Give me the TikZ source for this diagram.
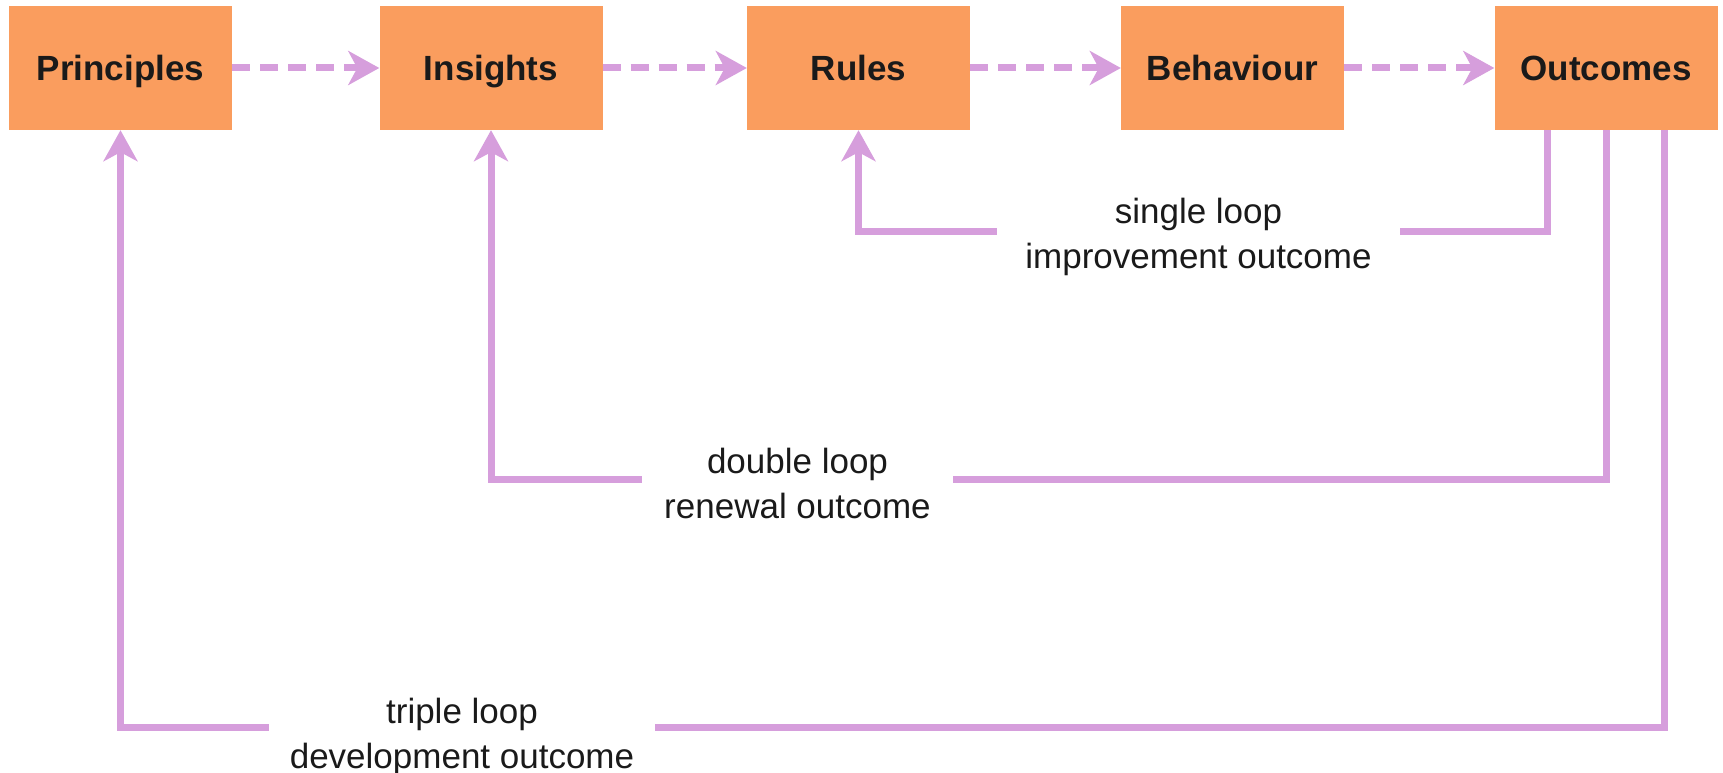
\documentclass[tikz,border=0pt]{standalone}
\usepackage{fontspec}
\setmainfont{Liberation Sans}
\usetikzlibrary{arrows.meta}
\definecolor{boxorange}{RGB}{250,157,94}
\definecolor{looppurple}{RGB}{214,158,220}
\definecolor{inkdark}{RGB}{26,26,26}
\tikzset{
  stagebox/.style={rectangle, fill=boxorange, draw=none, minimum width=223pt, minimum height=124pt,
    inner sep=0pt, text height=25pt, text depth=0pt, text=inkdark,
    font=\fontsize{35}{42}\selectfont\bfseries},
  looplabel/.style={rectangle, inner xsep=0pt, inner ysep=0pt, align=center, text=inkdark,
    font=\fontsize{35}{45}\selectfont},
  flowarrow/.style={draw=looppurple, line width=7pt, dash pattern=on 18pt off 10pt,
    -{Stealth[length=31pt, width=34pt, inset=9pt, fill=looppurple]}},
  loopline/.style={draw=looppurple, line width=7pt, line join=miter},
  looparrow/.style={loopline, -{Stealth[length=31pt, width=34pt, inset=9pt, fill=looppurple]}}
}
\begin{document}
\begin{tikzpicture}[x=1pt, y=-1pt]
\useasboundingbox (0,0) rectangle (1723,773);
% stages
\node[stagebox] (principles) at (120.5,68) {Principles};
\node[stagebox] (insights)   at (491,68)   {Insights};
\node[stagebox] (rules)      at (858.5,68) {Rules};
\node[stagebox] (behaviour)  at (1232.5,68) {Behaviour};
\node[stagebox] (outcomes)   at (1606,68)  {Outcomes};
% forward flow
\draw[flowarrow] (principles.east) -- (insights.west);
\draw[flowarrow] (insights.east) -- (rules.west);
\draw[flowarrow] (rules.east) -- (behaviour.west);
\draw[flowarrow] (behaviour.east) -- (outcomes.west);
% loop labels
\node[looplabel, minimum width=403pt] (single) at (1198.5,236.7) {single loop\\improvement outcome};
\node[looplabel, minimum width=311pt] (double) at (797.5,483.2) {double loop\\renewal outcome};
\node[looplabel, minimum width=386pt] (triple) at (462,736.7) {triple loop\\development outcome};
% single loop
\draw[loopline] ([xshift=-59pt]outcomes.south) |- ([yshift=5.7pt]single.east);
\draw[looparrow] ([yshift=5.7pt]single.west) -| (rules.south);
% double loop
\draw[loopline] (outcomes.south) |- ([yshift=4.2pt]double.east);
\draw[looparrow] ([yshift=4.2pt]double.west) -| (insights.south);
% triple loop
\draw[loopline] ([xshift=58pt]outcomes.south) |- ([yshift=9.7pt]triple.east);
\draw[looparrow] ([yshift=9.7pt]triple.west) -| (principles.south);
\end{tikzpicture}
\end{document}
